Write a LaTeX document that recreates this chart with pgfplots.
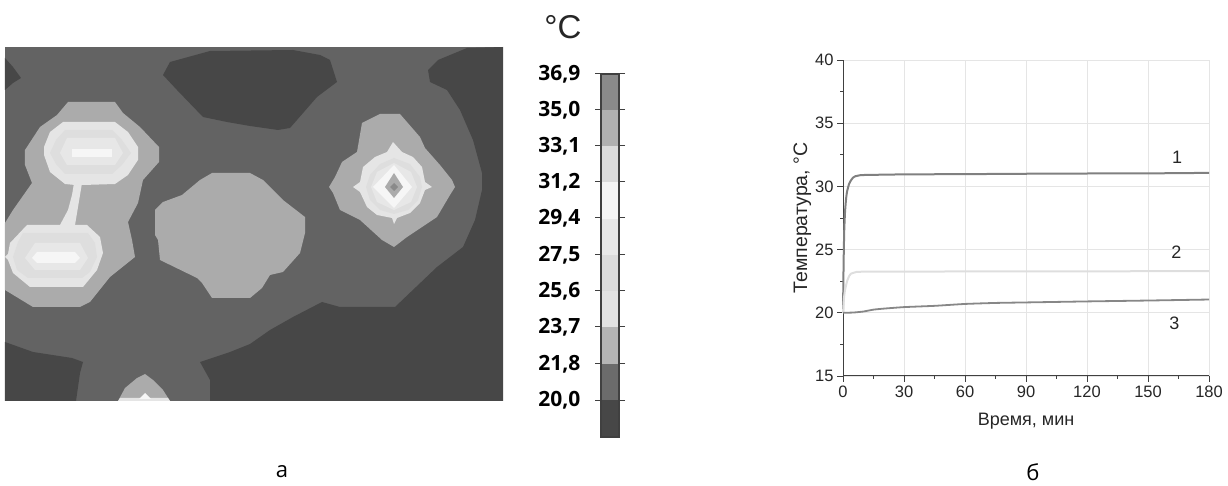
\documentclass[border=0pt]{standalone}
\usepackage{pgfplots}
\pgfplotsset{compat=1.18}
\usepackage{fontspec}
\setmainfont{Open Sans}
\newfontfamily\arial{Liberation Sans}
\definecolor{cA}{gray}{0.278}
\definecolor{cB}{gray}{0.388}
\definecolor{cC}{gray}{0.671}
\definecolor{cD}{gray}{0.900}
\definecolor{cE}{gray}{0.870}
\definecolor{cF}{gray}{0.905}
\definecolor{cG}{gray}{0.965}
\definecolor{cH}{gray}{0.540}
\definecolor{axc}{gray}{0.25}
\begin{document}
\begin{tikzpicture}[x=1pt,y=1pt]
\path[use as bounding box] (0,0) rectangle (1228,486);
% --- panel a: map, coordinates are the map's own (x, y down)
\begin{axis}[at={(5pt,85pt)},anchor=south west,scale only axis,width=498pt,height=354pt,
  xmin=5,xmax=503,ymin=47,ymax=401,y dir=reverse,axis lines=none,
  every axis plot/.append style={draw=none,mark=none,line join=round}]
\addplot[fill=cB] coordinates {(5,47)(503,47)(503,401)(5,401)} --cycle;
% dark regions
\addplot[fill=cA] coordinates {(5,58)(13,67)(21,78)(13,83)(5,90)} --cycle;
\addplot[fill=cA] coordinates {(210,51)(170,62)(163,75)(177,90)(203,117)(227,122)(250,126)(278,130)(290,128)(317,97)(337,82)(330,60)(320,55)(293,50)} --cycle;
\addplot[fill=cA] coordinates {(467,48)(438,60)(428,70)(430,82)(447,90)(460,110)(473,140)(482,173)(482,190)(475,220)(463,247)(437,267)(395,307)(340,307)(322,302)(293,317)(270,330)(250,344)(230,352)(200,362)(210,380)(210,401)(503,401)(503,47)} --cycle;
\addplot[fill=cA] coordinates {(5,342)(33,352)(72,358)(83,362)(80,373)(76,401)(5,401)} --cycle;
% light regions
\addplot[fill=cC] coordinates {(68,102)(115,102)(123,113)(140,127)(159,147)(159,162)(143,180)(138,203)(128,222)(132,240)(135,257)(110,277)(90,302)(80,307)(33,307)(5,290)(5,223)(13,210)(32,183)(25,165)(25,150)(40,127)(57,115)} --cycle;
\addplot[fill=cC] coordinates {(212,173)(250,173)(263,180)(283,200)(305,217)(305,233)(300,253)(283,272)(270,275)(262,288)(250,298)(212,298)(202,283)(197,278)(160,260)(158,240)(155,235)(155,210)(163,202)(182,195)(200,180)} --cycle;
\addplot[fill=cC] coordinates {(380,114)(400,114)(420,137)(425,148)(440,165)(452,180)(455,187)(450,195)(437,217)(407,237)(394,247)(382,240)(360,220)(340,210)(333,193)(329,187)(335,177)(342,162)(357,152)(362,123)} --cycle;
\addplot[fill=cC] coordinates {(118,401)(125,388)(137,378)(145,374)(153,380)(163,390)(170,401)} --cycle;
\addplot[fill=cD] coordinates {(118,401)(120,398)(168,398)(170,401)} --cycle;
\addplot[fill=cG] coordinates {(139,399)(145,393)(151,399)} --cycle;
% upper blob
\addplot[fill=cD] coordinates {(63,122)(115,122)(128,132)(138,147)(138,160)(128,175)(115,184)(83,185)(75,185)(65,184)(50,172)(44,155)(44,147)(50,132)} --cycle;
\addplot[fill=cD] coordinates {(82,183)(75,225)(60,225)(68,210)(72,195)(74,183)} --cycle;
\addplot[fill=cE] coordinates {(65,130)(112,130)(122,140)(131,153)(122,165)(112,174)(65,174)(56,164)(50,153)(56,140)} --cycle;
\addplot[fill=cF] coordinates {(67,138)(115,138)(123,153)(115,165)(67,165)(60,153)} --cycle;
\addplot[fill=cG] coordinates {(72,149)(112,149)(112,157)(72,157)} --cycle;
% lower blob
\addplot[fill=cD] coordinates {(27,225)(87,225)(100,237)(103,253)(97,270)(83,287)(30,287)(13,273)(8,260)(5,257)(8,254)(10,243)} --cycle;
\addplot[fill=cE] coordinates {(23,233)(88,233)(95,243)(97,257)(90,272)(82,278)(28,278)(17,270)(13,257)(18,242)} --cycle;
\addplot[fill=cF] coordinates {(35,243)(80,243)(88,258)(80,270)(35,270)(25,258)} --cycle;
\addplot[fill=cG] coordinates {(37,252)(75,252)(80,258)(75,263)(37,263)(32,258)} --cycle;
% right blob
\addplot[fill=cD] coordinates {(393,142)(402,152)(413,157)(422,167)(425,182)(432,187)(425,190)(420,203)(410,213)(397,218)(394,224)(392,218)(377,215)(367,207)(360,192)(353,187)(360,182)(363,167)(375,157)(387,152)} --cycle;
\addplot[fill=cE] coordinates {(394,158)(410,164)(420,177)(422,187)(418,200)(408,210)(394,214)(380,210)(370,200)(366,187)(370,175)(380,164)} --cycle;
\addplot[fill=cF] coordinates {(394,163)(411,172)(417,187)(411,202)(394,210)(377,202)(371,187)(377,172)} --cycle;
\addplot[fill=cG] coordinates {(394,165)(412,187)(394,208)(373,187)} --cycle;
\addplot[fill=cC] coordinates {(394,173)(403,187)(394,198)(385,187)} --cycle;
\addplot[fill=cH] coordinates {(394,183)(398,187)(394,191)(390,187)} --cycle;
\end{axis}
% --- colour scale
\begin{axis}[at={(601pt,49pt)},anchor=south west,scale only axis,width=18pt,height=363pt,
  xmin=0,xmax=1,ymin=74,ymax=437,y dir=reverse,
  xtick=\empty,ytick={74,110,146,182,218,255,291,327,364,400},
  yticklabels={36{,}9,35{,}0,33{,}1,31{,}2,29{,}4,27{,}5,25{,}6,23{,}7,21{,}8,20{,}0},
  tick align=outside,major tick length=6pt,
  tick style={axc,line width=1pt},
  axis line style={axc,line width=1.5pt},
  yticklabel style={font=\fontsize{21}{21}\selectfont\bfseries,xshift=-11pt,text=black},
  axis on top,
  every axis plot/.append style={draw=none,mark=none}]
\addplot[fill=black!46] coordinates {(0,74)(1,74)(1,110)(0,110)} --cycle;
\addplot[fill=black!31] coordinates {(0,110)(1,110)(1,146)(0,146)} --cycle;
\addplot[fill=black!14] coordinates {(0,146)(1,146)(1,182)(0,182)} --cycle;
\addplot[fill=black!4] coordinates {(0,182)(1,182)(1,219)(0,219)} --cycle;
\addplot[fill=black!9] coordinates {(0,219)(1,219)(1,255)(0,255)} --cycle;
\addplot[fill=black!14] coordinates {(0,255)(1,255)(1,291)(0,291)} --cycle;
\addplot[fill=black!11] coordinates {(0,291)(1,291)(1,327)(0,327)} --cycle;
\addplot[fill=black!29] coordinates {(0,327)(1,327)(1,364)(0,364)} --cycle;
\addplot[fill=black!58] coordinates {(0,364)(1,364)(1,400)(0,400)} --cycle;
\addplot[fill=black!72] coordinates {(0,400)(1,400)(1,437)(0,437)} --cycle;
\end{axis}
\node[font=\arial\fontsize{33}{33}\selectfont,text=black!85] at (563,459) {°C};
\node[font=\fontsize{22}{22}\selectfont] at (282,14) {а};
\node[font=\fontsize{22}{22}\selectfont] at (1033,14) {б};
% --- panel b
\begin{axis}[at={(843pt,110pt)},anchor=south west,scale only axis,width=366pt,height=316pt,
  xmin=0,xmax=180,ymin=15,ymax=40,
  axis x line*=bottom,axis y line*=left,
  axis line style={-,axc,line width=1pt},
  xtick={0,30,...,180},ytick={15,20,...,40},
  minor xtick={15,45,...,165},minor ytick={17.5,22.5,...,37.5},
  tick align=outside,major tick length=6pt,minor tick length=3pt,
  tick style={axc,line width=0.8pt},
  grid=major,major grid style={black!10,line width=0.8pt},
  /pgf/number format/assume math mode=true,
  tick label style={font=\arial\fontsize{16.5}{16.5}\selectfont,text=black!85},
  xlabel={Время, мин},ylabel={Температура, °C},
  xlabel style={font=\arial\fontsize{18}{18}\selectfont,text=black!85,yshift=-9pt},
  ylabel style={font=\arial\fontsize{19.5}{19.5}\selectfont,text=black!85,yshift=-3pt},
  clip=false,
  every axis plot/.append style={mark=none,smooth,tension=0.3}]
\addplot[black!50,line width=2pt] coordinates {(0,20)(0.3,24)(0.6,26.5)(1,28)(1.5,29)(2,29.6)(3,30.2)(4,30.5)(5,30.7)(6,30.8)(8,30.87)(10,30.9)(30,30.95)(60,30.97)(90,31)(120,31.02)(150,31.03)(180,31.07)};
\addplot[black!13,line width=2pt] coordinates {(0,20)(0.5,21.2)(1,21.8)(2,22.5)(3,22.9)(4,23.1)(6,23.2)(10,23.25)(60,23.27)(120,23.28)(180,23.3)};
\addplot[black!47,line width=1.8pt] coordinates {(0,20)(5,20.02)(10,20.1)(15,20.25)(20,20.33)(30,20.45)(45,20.55)(60,20.7)(75,20.78)(90,20.82)(120,20.9)(150,20.97)(180,21.05)};
\node[font=\arial\fontsize{18}{18}\selectfont,text=black!85] at (axis cs:164.3,32.3) {1};
\node[font=\arial\fontsize{18}{18}\selectfont,text=black!85] at (axis cs:164,24.8) {2};
\node[font=\arial\fontsize{18}{18}\selectfont,text=black!85] at (axis cs:163,19.2) {3};
\end{axis}
\end{tikzpicture}
\end{document}
